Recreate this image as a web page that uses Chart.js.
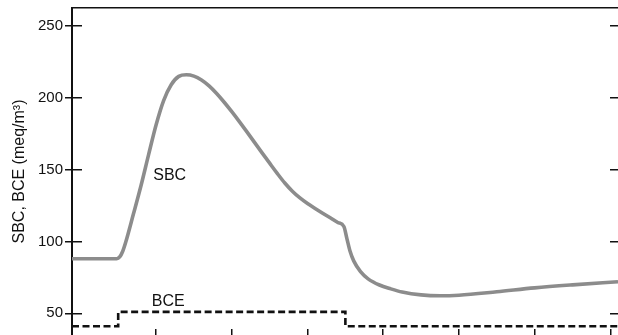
<!DOCTYPE html>
<html>
<head>
<meta charset="utf-8">
<script src="https://cdn.jsdelivr.net/npm/chart.js@4"></script>
<style>
body{margin:0;background:#fff;}
#wrap{width:618px;height:335px;}
</style>
</head>
<body>
<div id="wrap"><canvas id="chart" width="618" height="335"></canvas></div>
<script>
// x is in tick units (unlabelled ticks at 1..7), y in meq/m3
let sbcX=[-0.11,0.3,0.48,0.52,0.56,0.60,0.70,0.80,0.90,1.00,1.10,1.20,1.30,1.40,1.50,1.60,1.70,1.80,1.90,2.00,2.10,2.20,2.30,2.40,2.50,2.60,2.70,2.80,2.90,3.00,3.10,3.20,3.30,3.40,3.48,3.52,3.56,3.61,3.70,3.80,3.95,4.10,4.25,4.50,4.75,5.00,5.50,6.00,6.50,7.10];
let sbcY=[88,88,88,89.2,93.2,99.6,118.9,138.6,160.1,181.1,198.1,209.1,214.9,216,215.1,212.4,208.3,203,196.9,190.3,183.4,176.3,169,161.7,154.5,147.4,140.7,135,130.3,126.4,123,119.7,116.5,113.2,110.4,102,93.5,86.5,79,74,69.7,67,64.8,62.8,62.2,62.6,65,67.7,69.8,72];
let bceX=[-0.11,0.5,0.5,3.5,3.5,7.1];
let bceY=[41,41,51,51,41,41];
let yTicks=[50,100,150,200,250];
let xTicks=[1,2,3,4,5,6,7];
let curveNames=['SBC','BCE'];
let nameX=[1.18,1.16];
let nameY=[146,58];

let xMin=-0.11, xMax=7.1, yMin=34.9, yMax=262.5;
let font='"Liberation Sans", Arial, sans-serif';
let ink='#111';

let toPoints=(xs,ys)=>xs.map((x,i)=>({x:x,y:ys[i]}));

let namePlugin={
  id:'curveNames',
  afterDatasetsDraw(chart){
    let c=chart.ctx, sx=chart.scales.x, sy=chart.scales.y;
    c.save();
    c.font='16px '+font;
    c.fillStyle=ink;
    c.textAlign='center';
    c.textBaseline='middle';
    for(let i=0;i<curveNames.length;i++){
      c.fillText(curveNames[i], sx.getPixelForValue(nameX[i]), sy.getPixelForValue(nameY[i]));
    }
    c.restore();
  }
};

let setTicks=list=>(s=>{s.ticks=list.map(v=>({value:v}));});
// fixed axis sizes, no extra label padding around the plot
let fixSize=(w,h)=>(s=>{
  if(w!==null) s.width=w;
  if(h!==null) s.height=h;
  s.paddingTop=0; s.paddingBottom=0; s.paddingLeft=0; s.paddingRight=0;
});

let ctx=document.getElementById('chart').getContext('2d');
let myChart=new Chart(ctx,{
  type:'line',
  data:{
    datasets:[{
      label:'SBC',
      data:toPoints(sbcX,sbcY),
      borderColor:'#8c8c8c',
      borderWidth:3.6,
      pointRadius:0,
      cubicInterpolationMode:'monotone',
      fill:false
    },{
      label:'BCE',
      data:toPoints(bceX,bceY),
      borderColor:ink,
      borderWidth:2.6,
      borderDash:[7,3.5],
      pointRadius:0,
      tension:0,
      fill:false
    }]
  },
  options:{
    responsive:false,
    animation:false,
    layout:{padding:{top:8,right:0,bottom:0,left:0}},
    scales:{
      x:{
        type:'linear',position:'bottom',min:xMin,max:xMax,
        afterBuildTicks:setTicks(xTicks),
        ticks:{display:false},
        grid:{drawOnChartArea:false,tickLength:-6,color:ink,lineWidth:1.5},
        border:{display:false},
        afterFit:fixSize(null,0)
      },
      x2:{
        type:'linear',position:'top',min:xMin,max:xMax,
        ticks:{display:false},
        grid:{display:false},
        border:{display:true,color:ink,width:1.5},
        afterFit:fixSize(null,0)
      },
      y:{
        type:'linear',position:'left',weight:1,min:yMin,max:yMax,
        afterBuildTicks:setTicks(yTicks),
        ticks:{color:ink,font:{size:15,family:font},padding:2},
        grid:{drawOnChartArea:false,tickLength:7,color:ink,lineWidth:1.5},
        border:{display:true,color:ink,width:2},
        title:{display:true,text:'SBC, BCE (meq/m\u00b3)',color:ink,font:{size:16,family:font},padding:{top:10,bottom:0}},
        afterFit:fixSize(72,null)
      },
      yIn:{
        type:'linear',position:'left',weight:0,min:yMin,max:yMax,
        afterBuildTicks:setTicks(yTicks),
        ticks:{display:false},
        grid:{drawOnChartArea:false,tickLength:-10,color:ink,lineWidth:1.5},
        border:{display:false},
        afterFit:fixSize(0,null)
      },
      y2:{
        type:'linear',position:'right',min:yMin,max:yMax,
        afterBuildTicks:setTicks(yTicks),
        ticks:{display:false},
        grid:{drawOnChartArea:false,tickLength:-8,color:ink,lineWidth:1.5},
        border:{display:false},
        afterFit:fixSize(0,null)
      }
    },
    plugins:{
      legend:{display:false},
      tooltip:{enabled:false}
    }
  },
  plugins:[namePlugin]
});
</script>
</body>
</html>
